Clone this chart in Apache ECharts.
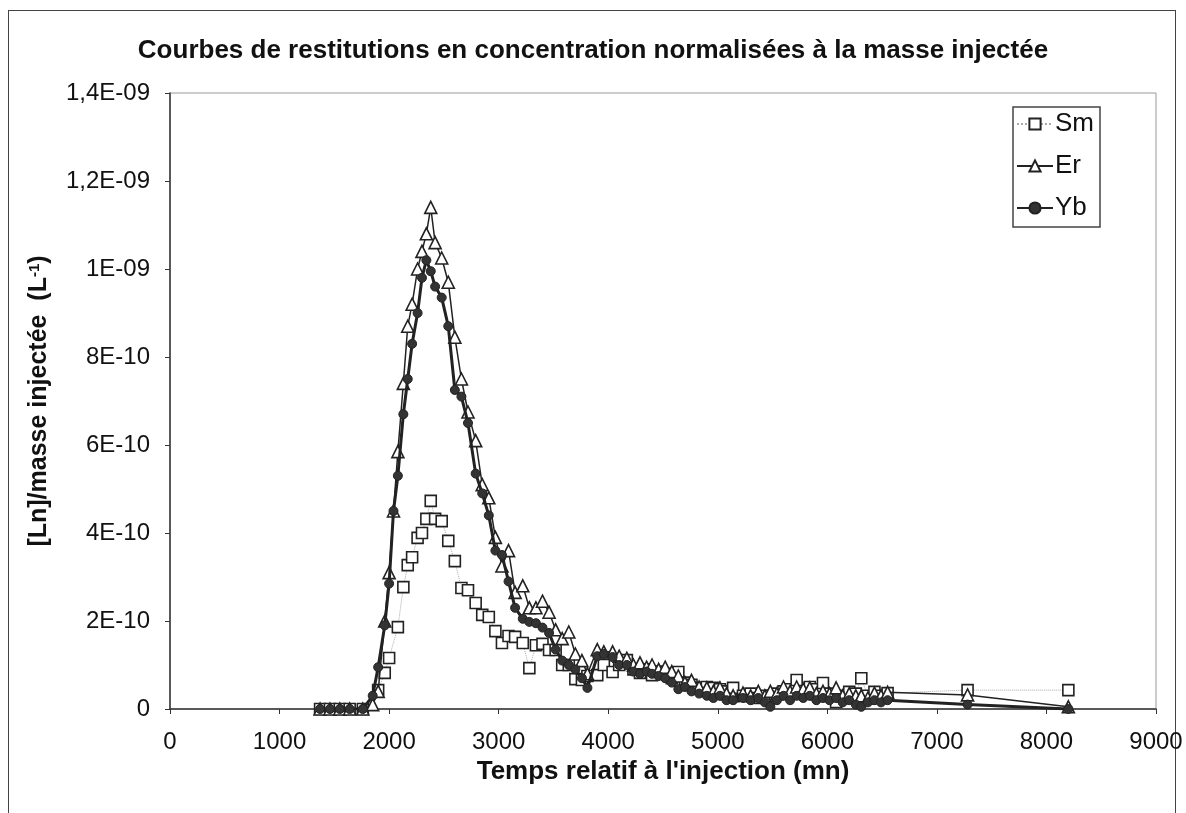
<!DOCTYPE html>
<html>
<head>
<meta charset="utf-8">
<script src="https://cdn.jsdelivr.net/npm/echarts@6/dist/echarts.min.js"></script>
<style>
  html, body { margin: 0; padding: 0; background: #fff; }
  #frame { position: absolute; left: 8px; top: 10px; width: 1168px; height: 820px; border: 1.5px solid #444; border-bottom: none; box-sizing: border-box; }
  #chart { position: absolute; left: 0; top: 0; width: 1186px; height: 813px; }
</style>
</head>
<body>
<div id="frame"></div>
<div id="chart"></div>
<script>
// temps relatif a l'injection (mn)
var temps = [1370, 1460, 1550, 1640, 1760, 1850, 1900, 1960, 2000, 2040, 2080, 2130, 2170, 2210, 2260, 2300, 2340, 2380, 2420, 2480,
  2540, 2600, 2660, 2720, 2790, 2850, 2910, 2970, 3030, 3090, 3150, 3220, 3280, 3340, 3400, 3460, 3520, 3580, 3640, 3700,
  3760, 3810, 3900, 3960, 4040, 4100, 4170, 4230, 4290, 4350, 4400, 4460, 4520, 4580, 4640, 4700, 4760, 4830, 4900, 4960,
  5020, 5080, 5140, 5230, 5300, 5370, 5430, 5480, 5540, 5600, 5660, 5720, 5780, 5840, 5900, 5960, 6020, 6080, 6140, 6200,
  6260, 6310, 6370, 6430, 6490, 6550, 7280, 8200];

// valeurs en 1E-10 L-1
var sm = [0, 0, 0, 0, 0, null, 0.43, 0.82, 1.16, null, 1.86, 2.77, 3.27, 3.45, 3.89, 4.0, 4.32, 4.73, 4.32, 4.27,
  3.82, 3.36, 2.75, 2.7, 2.41, 2.14, 2.09, 1.77, 1.5, 1.66, 1.64, 1.5, 0.93, 1.45, 1.48, 1.34, 1.34, 1.0, 1.0, 0.68,
  0.66, 0.75, 0.77, 1.0, 0.84, 1.0, 1.11, 0.9, 0.82, 0.9, 0.77, 0.85, 0.8, 0.7, 0.84, 0.6, 0.55, 0.48, 0.5, 0.48,
  0.45, 0.4, 0.48, 0.3, 0.35, 0.25, 0.3, 0.3, 0.35, 0.4, 0.45, 0.66, 0.4, 0.5, 0.45, 0.59, 0.35, 0.16, 0.3, 0.39,
  0.35, 0.7, 0.3, 0.39, 0.3, 0.36, 0.43, 0.43];
var er = [0, 0, 0, 0, 0, 0.1, 0.4, 2.0, 3.1, 4.5, 5.85, 7.4, 8.7, 9.2, 10.0, 10.4, 10.8, 11.4, 10.6, 10.25,
  9.7, 8.45, 7.5, 6.75, 6.1, 5.1, 4.8, 3.9, 3.25, 3.6, 2.65, 2.8, 2.3, 2.3, 2.45, 2.2, 1.8, 1.6, 1.75, 1.25,
  1.1, 0.8, 1.35, 1.3, 1.3, 1.2, 1.15, 1.0, 1.05, 0.95, 1.0, 0.9, 0.95, 0.85, 0.75, 0.6, 0.65, 0.5, 0.48, 0.4,
  0.48, 0.35, 0.3, 0.36, 0.3, 0.4, 0.3, 0.4, 0.35, 0.5, 0.4, 0.5, 0.45, 0.48, 0.35, 0.4, 0.35, 0.48, 0.3, 0.35,
  0.3, 0.3, 0.25, 0.36, 0.3, 0.38, 0.32, 0.05];
var yb = [0, 0, 0, 0, 0, 0.3, 0.95, 1.9, 2.85, 4.5, 5.3, 6.7, 7.5, 8.3, 9.0, 9.8, 10.2, 9.95, 9.6, 9.35,
  8.7, 7.25, 7.1, 6.5, 5.35, 4.9, 4.4, 3.6, 3.5, 2.9, 2.3, 2.05, 1.98, 1.95, 1.85, 1.73, 1.35, 1.1, 1.0, 0.9,
  0.7, 0.48, 1.2, 1.25, 1.18, 1.0, 1.0, 0.85, 0.8, 0.85, 0.8, 0.75, 0.7, 0.6, 0.45, 0.5, 0.4, 0.35, 0.3, 0.25,
  0.3, 0.2, 0.2, 0.25, 0.2, 0.25, 0.15, 0.05, 0.2, 0.3, 0.2, 0.3, 0.25, 0.3, 0.2, 0.25, 0.2, 0.25, 0.15, 0.2,
  0.1, 0.05, 0.15, 0.2, 0.15, 0.2, 0.1, 0.0];

var yTickLabels = ['0', '2E-10', '4E-10', '6E-10', '8E-10', '1E-09', '1,2E-09', '1,4E-09'];

function toPoints(vals) {
  var out = [];
  for (var i = 0; i < temps.length; i++) {
    out.push([temps[i], vals[i] === null ? null : vals[i] * 1e-10]);
  }
  return out;
}

var chart = echarts.init(document.getElementById('chart'));
var font = 'Liberation Sans, Arial, sans-serif';

var option = {
  backgroundColor: 'transparent',
  animation: false,
  title: {
    text: 'Courbes de restitutions en concentration normalisées à la masse injectée',
    left: 'center',
    top: 33,
    textStyle: { fontFamily: font, fontSize: 26, fontWeight: 'bold', color: '#111' }
  },
  legend: {
    orient: 'vertical',
    right: 86,
    top: 107,
    padding: [3, 6, 5, 3],
    itemGap: 14,
    itemWidth: 36,
    itemHeight: 14,
    borderColor: '#444',
    borderWidth: 1.5,
    backgroundColor: '#fff',
    textStyle: { fontFamily: font, fontSize: 26, lineHeight: 28, color: '#111', padding: [0, 0, 0, -3] },
    data: ['Sm', 'Er', 'Yb']
  },
  grid: {
    left: 170, right: 30, top: 93, bottom: 104,
    show: true, borderColor: '#999', borderWidth: 1
  },
  xAxis: {
    type: 'value',
    min: 0, max: 9000, interval: 1000,
    name: "Temps relatif à l'injection (mn)",
    nameLocation: 'middle',
    nameGap: 50,
    nameMoveOverlap: false,
    nameTextStyle: { fontFamily: font, fontSize: 26, fontWeight: 'bold', color: '#111' },
    axisLine: { lineStyle: { color: '#333', width: 1.5 } },
    axisTick: { inside: false, length: 5, lineStyle: { color: '#333' } },
    axisLabel: {
      fontFamily: font, fontSize: 24, color: '#111', margin: 21,
      formatter: function (v) { return String(v); }
    },
    splitLine: { show: false }
  },
  yAxis: {
    type: 'value',
    min: 0, max: 1.4e-9, interval: 2e-10,
    name: '[Ln]/masse injectée  (L{sup|-1})',
    nameLocation: 'middle',
    nameGap: 118,
    nameRotate: 90,
    nameMoveOverlap: false,
    nameTextStyle: {
      fontFamily: font, fontSize: 25, fontWeight: 'bold', color: '#111',
      rich: { sup: { fontFamily: font, fontSize: 15, fontWeight: 'bold', color: '#111', verticalAlign: 'top', padding: [0, 0, 10, 0] } }
    },
    axisLine: { show: true, lineStyle: { color: '#333', width: 1.5 } },
    axisTick: { show: true, inside: false, length: 5, lineStyle: { color: '#333' } },
    axisLabel: {
      fontFamily: font, fontSize: 24, color: '#111', margin: 20,
      formatter: function (v) { return yTickLabels[Math.round(v / 2e-10)]; }
    },
    splitLine: { show: false }
  },
  series: [
    {
      name: 'Sm', type: 'line', data: toPoints(sm), connectNulls: true,
      symbol: 'rect', symbolSize: 11,
      lineStyle: { color: '#aaa', width: 1, type: 'dotted' },
      itemStyle: { color: '#fff', borderColor: '#222', borderWidth: 1.6 },
      z: 2
    },
    {
      name: 'Er', type: 'line', data: toPoints(er),
      symbol: 'triangle', symbolSize: 12,
      lineStyle: { color: '#222', width: 1.5 },
      itemStyle: { color: '#fff', borderColor: '#222', borderWidth: 1.6 },
      z: 3
    },
    {
      name: 'Yb', type: 'line', data: toPoints(yb),
      symbol: 'circle', symbolSize: 9,
      lineStyle: { color: '#222', width: 3 },
      itemStyle: { color: '#333', borderColor: '#222', borderWidth: 1 },
      z: 4
    }
  ]
};

chart.setOption(option);
</script>
</body>
</html>
